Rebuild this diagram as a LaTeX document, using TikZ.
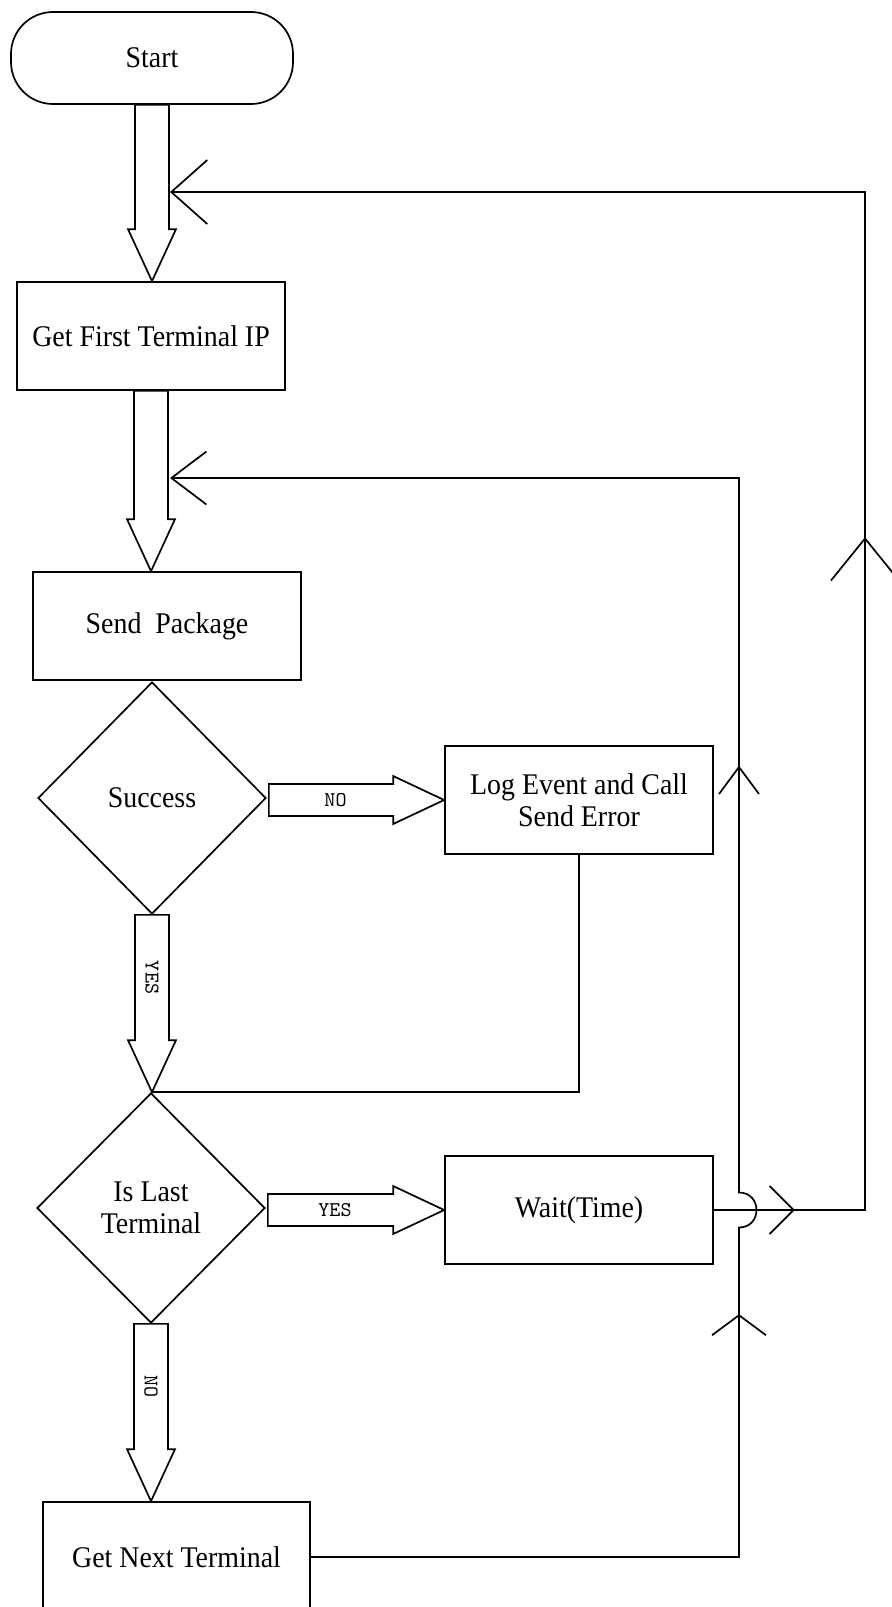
\documentclass[tikz,border=0pt]{standalone}
\usepackage{fontspec}
\setmainfont{Liberation Serif}[FakeStretch=0.93]
\usetikzlibrary{arrows.meta,shapes.geometric,decorations.markings,calc}

% hollow block arrow pointing down, from the bottom of #1 to the top of #2
\newcommand{\blockdown}[3]{%
  \draw[blockarrow] let \p1=(#1.south), \p2=(#2.north) in
    (\x1-8.5pt,\y1) -- (\x1-8.5pt,\y2+26pt) -- (\x1-12pt,\y2+26pt) -- (\x1,\y2)
    -- (\x1+12pt,\y2+26pt) -- (\x1+8.5pt,\y2+26pt) -- (\x1+8.5pt,\y1) -- cycle
    node[flag, rotate=-90] at (\x1,{0.5*\y1+0.5*\y2+13pt}) {#3};}
% hollow block arrow pointing right, from the right of #1 to the left of #2
\newcommand{\blockright}[3]{%
  \draw[blockarrow] let \p1=(#1.east), \p2=(#2.west) in
    (\x1+1pt,\y2+8pt) -- (\x2-25.5pt,\y2+8pt) -- (\x2-25.5pt,\y2+12pt) -- (\x2,\y2)
    -- (\x2-25.5pt,\y2-12pt) -- (\x2-25.5pt,\y2-8pt) -- (\x1+1pt,\y2-8pt) -- cycle
    node[flag] at ({0.5*\x1+0.5*\x2-10pt},\y2) {#3};}

\begin{document}
\begin{tikzpicture}[x=0.5pt,y=-0.5pt,line width=0.85pt,
  box/.style={draw, rectangle, inner sep=0pt, minimum width=134pt,
    minimum height=54pt, align=center, font=\fontsize{15}{16}\selectfont},
  term/.style={box, rounded corners=21pt, minimum width=141pt, minimum height=46pt},
  decide/.style={draw, diamond, inner sep=0pt, minimum width=114pt,
    minimum height=116pt, align=center, font=\fontsize{15}{16}\selectfont},
  flag/.style={font=\ttfamily\fontsize{10.5}{11}\selectfont, inner sep=0pt},
  blockarrow/.style={draw, line join=miter},
  feedback/.style={draw}]

% page
\fill[white] (0,0) rectangle (891,1607);
\useasboundingbox (0,0) rectangle (891,1607);

% steps
\node[term] (start) at (152,58) {Start};
\node[box] (gftip) at (151,336) {Get First Terminal IP};
\node[box] (send) at (167,626) {Send\ \ Package};
\node[decide] (success) at (152,798) {Success};
\node[box] (logerr) at (579,800) {Log Event and Call\\Send Error};
\node[decide, minimum height=115pt] (islast) at (151,1208) {Is Last\\Terminal};
\node[box] (wait) at (579,1210) {Wait(Time)};
\node[box, minimum width=133.5pt, minimum height=55pt] (next) at (176.5,1557) {Get Next Terminal};

% rails and entry points of the loops
\coordinate (railM) at (739,0);
\coordinate (railR) at (865,0);
\coordinate (fb1) at (170,192);
\coordinate (fb2) at (170,478);

% main flow
\blockdown{start}{gftip}{}
\blockdown{gftip}{send}{}
\blockright{success}{logerr}{NO}
\blockdown{success}{islast}{YES}
\blockright{islast}{wait}{YES}
\blockdown{islast}{next}{NO}

% error branch rejoins
\draw[feedback] (logerr.south) |- (islast.north);

% outer loop: wait, then start over with the first terminal
\draw[feedback, -{Straight Barb[length=18pt,width=32pt]},
  postaction={decorate, decoration={markings,
    mark=at position 40.5pt with {\arrow{Straight Barb[length=12pt,width=24pt]}},
    mark=at position 412pt with {\arrow{Straight Barb[length=21pt,width=34pt]}}}}]
  (wait.east) -- (wait.east -| railR) -- (railR |- fb1) -- (fb1);

% inner loop: next terminal, hopping over the wait line
\draw[feedback, -{Straight Barb[length=17.5pt,width=26.5pt]},
  postaction={decorate, decoration={markings,
    mark=at position 335.5pt with {\arrow{Straight Barb[length=10pt,width=27pt]}},
    mark=at position 620pt with {\arrow{Straight Barb[length=13.5pt,width=20pt]}}}}]
  (next.east) -- (next.east -| railM)
  -- ($(railM |- wait.east)+(0,17.5)$)
  .. controls +(23.3,0) and +(23.3,0) .. ($(railM |- wait.east)+(0,-17.5)$)
  -- (railM |- fb2) -- (fb2);

\end{tikzpicture}
\end{document}
